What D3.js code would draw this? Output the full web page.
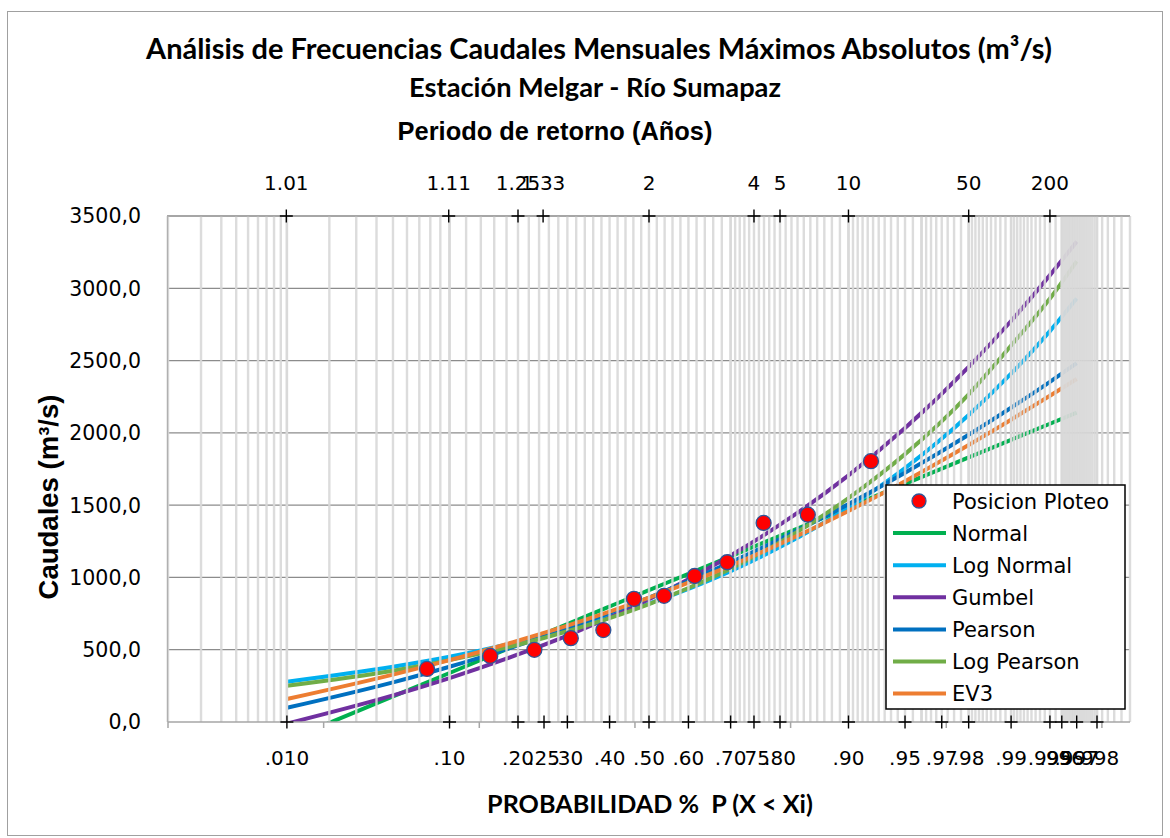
<!DOCTYPE html>
<html>
<head>
<meta charset="utf-8">
<script src="https://cdn.jsdelivr.net/npm/d3@7"></script>
<style>
  body { margin: 0; background: #fff; }
  svg { display: block; }
</style>
</head>
<body>
<div id="chart"></div>
<script>
// probabilidades de los puntos (i / (n+1)) y caudales ordenados
var probPuntos = [1/13, 2/13, 3/13, 4/13, 5/13, 6/13, 7/13, 8/13, 9/13, 10/13, 11/13, 12/13];
var qPuntos = [367, 457, 499, 580, 636, 852, 873, 1010, 1105, 1377, 1434, 1804];

// probabilidades donde se leen las curvas
var probCurva = [0.01, 0.05, 0.1, 0.2, 0.3, 0.4, 0.5, 0.6, 0.7, 0.8, 0.9, 0.95, 0.98, 0.99, 0.995, 0.997];
var qNormal     = [-128, 177, 339, 536, 678, 799, 912, 1025, 1146, 1288, 1485, 1647, 1830, 1952, 2063, 2140];
var qLogNormal  = [279, 382, 451, 554, 642, 728, 819, 921, 1044, 1210, 1484, 1756, 2123, 2409, 2704, 2929];
var qGumbel     = [-11, 184, 304, 467, 598, 723, 850, 988, 1152, 1365, 1706, 2033, 2457, 2774, 3091, 3323];
var qPearson    = [98, 274, 382, 530, 647, 754, 861, 975, 1104, 1265, 1507, 1724, 1987, 2174, 2353, 2482];
var qLogPearson = [251, 355, 428, 534, 628, 719, 816, 927, 1061, 1243, 1549, 1853, 2267, 2604, 2929, 3187];
var qEV3        = [159, 328, 428, 562, 666, 763, 860, 964, 1082, 1232, 1460, 1666, 1916, 2091, 2257, 2373];

var nombresSeries = ["Normal", "Log Normal", "Gumbel", "Pearson", "Log Pearson", "EV3"];
var coloresSeries = ["#00B050", "#00B0F0", "#7030A0", "#0070C0", "#70AD47", "#ED7D31"];

// eje inferior (probabilidad) y superior (periodo de retorno)
var probTicks = [0.01, 0.1, 0.2, 0.25, 0.3, 0.4, 0.5, 0.6, 0.7, 0.75, 0.8, 0.9, 0.95, 0.97, 0.98, 0.99, 0.995, 0.996, 0.997, 0.998];
var probLabels = [".010", ".10", ".20", ".25", ".30", ".40", ".50", ".60", ".70", ".75", ".80", ".90", ".95", ".97", ".98", ".99", ".995", ".996", ".997", ".998"];
var periodos = [1.01, 1.11, 1.25, 1.33, 2, 4, 5, 10, 50, 200];
var periodoLabels = ["1.01", "1.11", "1.25", "1.33", "2", "4", "5", "10", "50", "200"];
var qTicks = [0, 500, 1000, 1500, 2000, 2500, 3000, 3500];

// inversa de la normal estandar (Acklam)
function normInv(p){
	var a = [-39.69683028665376, 220.9460984245205, -275.9285104469687, 138.3577518672690, -30.66479806614716, 2.506628277459239];
	var b = [-54.47609879822406, 161.5858368580409, -155.6989798598866, 66.80131188771972, -13.28068155288572];
	var c = [-0.007784894002430293, -0.3223964580411365, -2.400758277161838, -2.549732539343734, 4.374664141464968, 2.938163982698783];
	var d = [0.007784695709041462, 0.3224671290700398, 2.445134137142996, 3.754408661907416];
	var q, r;
	if(p < 0.02425){
		q = Math.sqrt(-2 * Math.log(p));
		return (((((c[0]*q+c[1])*q+c[2])*q+c[3])*q+c[4])*q+c[5]) / ((((d[0]*q+d[1])*q+d[2])*q+d[3])*q+1);
	}
	if(p > 1 - 0.02425){
		q = Math.sqrt(-2 * Math.log(1 - p));
		return -(((((c[0]*q+c[1])*q+c[2])*q+c[3])*q+c[4])*q+c[5]) / ((((d[0]*q+d[1])*q+d[2])*q+d[3])*q+1);
	}
	q = p - 0.5; r = q * q;
	return (((((a[0]*r+a[1])*r+a[2])*r+a[3])*r+a[4])*r+a[5])*q / (((((b[0]*r+b[1])*r+b[2])*r+b[3])*r+b[4])*r+1);
}

var width = 1170, height = 838;
var plotLeft = 168, plotRight = 1130, plotTop = 216, plotBottom = 722;

var svg = d3.select("#chart").append("svg")
	.attr("width", width)
	.attr("height", height);

svg.append("rect")
	.attr("x", 7.5).attr("y", 11.5)
	.attr("width", 1155).attr("height", 824)
	.attr("fill", "#fff")
	.attr("stroke", "#a0a0a0");

var zmin = normInv(0.001), zmax = normInv(0.999);
var xScale = d3.scaleLinear().domain([zmin, zmax]).range([plotLeft, plotRight]);
var xp = function(p){ return xScale(normInv(p)); };
var yScale = d3.scaleLinear().domain([0, 3500]).range([plotBottom, plotTop]);

svg.append("clipPath").attr("id", "plot-clip")
	.append("rect")
	.attr("x", plotLeft).attr("y", plotTop)
	.attr("width", plotRight - plotLeft).attr("height", plotBottom - plotTop);

// lineas horizontales
svg.append("g").selectAll("line")
	.data(qTicks.slice(1))
	.enter().append("line")
	.attr("x1", plotLeft - 1).attr("x2", plotRight)
	.attr("y1", function(d){ return yScale(d); })
	.attr("y2", function(d){ return yScale(d); })
	.attr("stroke", "#8c8c8c")
	.attr("stroke-width", 1.3);

// curvas de distribuciones
var seriesQ = [qNormal, qLogNormal, qGumbel, qPearson, qLogPearson, qEV3];
var line = d3.line()
	.x(function(d){ return xp(d.p); })
	.y(function(d){ return yScale(d.q); })
	.curve(d3.curveMonotoneX);

svg.append("g")
	.attr("clip-path", "url(#plot-clip)")
	.selectAll("path")
	.data(seriesQ.map(function(qs, i){
		return { nombre: nombresSeries[i], color: coloresSeries[i],
			puntos: qs.map(function(q, j){ return {p: probCurva[j], q: q}; }) };
	}))
	.enter().append("path")
	.attr("d", function(d){ return line(d.puntos); })
	.attr("fill", "none")
	.attr("stroke", function(d){ return d.color; })
	.attr("stroke-width", 4);

// rejilla vertical de probabilidad (va encima de las curvas)
var tramos = [[0.001, 0.01, 0.001], [0.01, 0.1, 0.01], [0.1, 0.7, 0.02], [0.7, 0.9, 0.01],
	[0.9, 0.96, 0.005], [0.96, 0.98, 0.0025], [0.98, 0.99, 0.001], [0.99, 0.996, 0.0005],
	[0.996, 0.998, 0.0001], [0.998, 0.999, 0.0002]];
var gridProbs = [];
tramos.forEach(function(t){
	var n = Math.round((t[1] - t[0]) / t[2]);
	for(var k = 0; k <= n; k++) gridProbs.push(t[0] + k * t[2]);
});

svg.append("g").selectAll("line")
	.data(gridProbs)
	.enter().append("line")
	.attr("x1", function(d){ return xp(d); })
	.attr("x2", function(d){ return xp(d); })
	.attr("y1", plotTop).attr("y2", plotBottom)
	.attr("stroke", "#d9d9d9")
	.attr("stroke-width", 2.4)
	.attr("opacity", 0.9);

// ejes
svg.append("line")
	.attr("x1", plotLeft).attr("x2", plotRight).attr("y1", plotTop).attr("y2", plotTop)
	.attr("stroke", "#a6a6a6").attr("stroke-width", 1.3);
svg.append("line")
	.attr("x1", plotLeft).attr("x2", plotRight).attr("y1", plotBottom).attr("y2", plotBottom)
	.attr("stroke", "#a6a6a6").attr("stroke-width", 1.5);
svg.append("line")
	.attr("x1", plotLeft - 0.5).attr("x2", plotLeft - 0.5).attr("y1", plotTop).attr("y2", plotBottom)
	.attr("stroke", "#b0b0b0").attr("stroke-width", 1.3);

// marcas grises del eje primario
svg.append("g").selectAll("line")
	.data(d3.range(0, 7))
	.enter().append("line")
	.attr("x1", function(k){ return xScale(zmin + k); })
	.attr("x2", function(k){ return xScale(zmin + k); })
	.attr("y1", plotBottom).attr("y2", plotBottom + 6)
	.attr("stroke", "#a6a6a6").attr("stroke-width", 1.5);

function cruces(g, xs, y){
	g.selectAll("path")
		.data(xs)
		.enter().append("path")
		.attr("d", function(d){ return "M" + (d - 6.5) + "," + y + "h13M" + d + "," + (y - 6.5) + "v13"; })
		.attr("stroke", "#000")
		.attr("stroke-width", 1.4);
}
cruces(svg.append("g"), probTicks.map(xp), plotBottom);
cruces(svg.append("g"), periodos.map(function(t){ return xp(1 - 1 / t); }), plotTop);

// puntos de ploteo
svg.append("g").selectAll("circle")
	.data(qPuntos)
	.enter().append("circle")
	.attr("cx", function(d, i){ return xp(probPuntos[i]); })
	.attr("cy", function(d){ return yScale(d); })
	.attr("r", 7.5)
	.attr("fill", "#ff0000")
	.attr("stroke", "#2F5597")
	.attr("stroke-width", 1.3);

// textos de ejes
var fTick = "'DejaVu Sans', sans-serif";
svg.append("g").selectAll("text")
	.data(probTicks)
	.enter().append("text")
	.attr("x", function(d){ return xp(d); })
	.attr("y", 765)
	.attr("text-anchor", "middle")
	.style("font-family", fTick).style("font-size", "20px")
	.text(function(d, i){ return probLabels[i]; });

svg.append("g").selectAll("text")
	.data(periodos)
	.enter().append("text")
	.attr("x", function(d){ return xp(1 - 1 / d); })
	.attr("y", 190)
	.attr("text-anchor", "middle")
	.style("font-family", fTick).style("font-size", "20px")
	.text(function(d, i){ return periodoLabels[i]; });

svg.append("g").selectAll("text")
	.data(qTicks)
	.enter().append("text")
	.attr("x", 141)
	.attr("y", function(d){ return yScale(d); })
	.attr("dy", "0.36em")
	.attr("text-anchor", "end")
	.style("font-family", fTick).style("font-size", "20.5px")
	.text(function(d){ return d3.format(".1f")(d).replace(".", ","); });

// ajusta el tamaño de letra a un ancho medido
function ajustar(sel, ancho){
	var actual = sel.node().getComputedTextLength();
	var fs = parseFloat(sel.style("font-size"));
	sel.style("font-size", (fs * ancho / actual) + "px");
}

var fTitulo = "Lato, 'Open Sans', sans-serif";
var fArial = "'Liberation Sans', Arial, sans-serif";

ajustar(svg.append("text")
	.attr("x", 599).attr("y", 59).attr("text-anchor", "middle")
	.style("font-family", fTitulo).style("font-weight", "bold").style("font-size", "26px")
	.text("Análisis de Frecuencias Caudales Mensuales Máximos Absolutos (m³/s)"), 906);

ajustar(svg.append("text")
	.attr("x", 595).attr("y", 97).attr("text-anchor", "middle")
	.style("font-family", fTitulo).style("font-weight", "bold").style("font-size", "26px")
	.text("Estación Melgar - Río Sumapaz"), 372);

ajustar(svg.append("text")
	.attr("x", 555).attr("y", 140).attr("text-anchor", "middle")
	.style("font-family", fArial).style("font-weight", "bold").style("font-size", "25px")
	.text("Periodo de retorno (Años)"), 315);

ajustar(svg.append("text")
	.attr("transform", "translate(58,497) rotate(-90)")
	.attr("text-anchor", "middle")
	.style("font-family", fArial).style("font-weight", "bold").style("font-size", "25px")
	.text("Caudales (m³/s)"), 205);

ajustar(svg.append("text")
	.attr("x", 650).attr("y", 813).attr("text-anchor", "middle")
	.style("font-family", fTitulo).style("font-weight", "bold").style("font-size", "21px")
	.attr("xml:space", "preserve")
	.text("PROBABILIDAD %  P (X < Xi)"), 326);

// leyenda
var leyenda = svg.append("g");
leyenda.append("rect")
	.attr("x", 886).attr("y", 485)
	.attr("width", 239).attr("height", 224)
	.attr("fill", "#fff")
	.attr("stroke", "#000")
	.attr("stroke-width", 1.5);

var filaY = function(i){ return 501 + i * 32.1; };
leyenda.append("circle")
	.attr("cx", 919).attr("cy", filaY(0)).attr("r", 7)
	.attr("fill", "#ff0000").attr("stroke", "#2F5597").attr("stroke-width", 1.3);

leyenda.selectAll("line")
	.data(nombresSeries)
	.enter().append("line")
	.attr("x1", 893).attr("x2", 946)
	.attr("y1", function(d, i){ return filaY(i + 1); })
	.attr("y2", function(d, i){ return filaY(i + 1); })
	.attr("stroke", function(d, i){ return coloresSeries[i]; })
	.attr("stroke-width", 4);

leyenda.selectAll("text")
	.data(["Posicion Ploteo"].concat(nombresSeries))
	.enter().append("text")
	.attr("x", 952)
	.attr("y", function(d, i){ return filaY(i); })
	.attr("dy", "0.36em")
	.style("font-family", fTick).style("font-size", "21px")
	.text(function(d){ return d; });
</script>
</body>
</html>
